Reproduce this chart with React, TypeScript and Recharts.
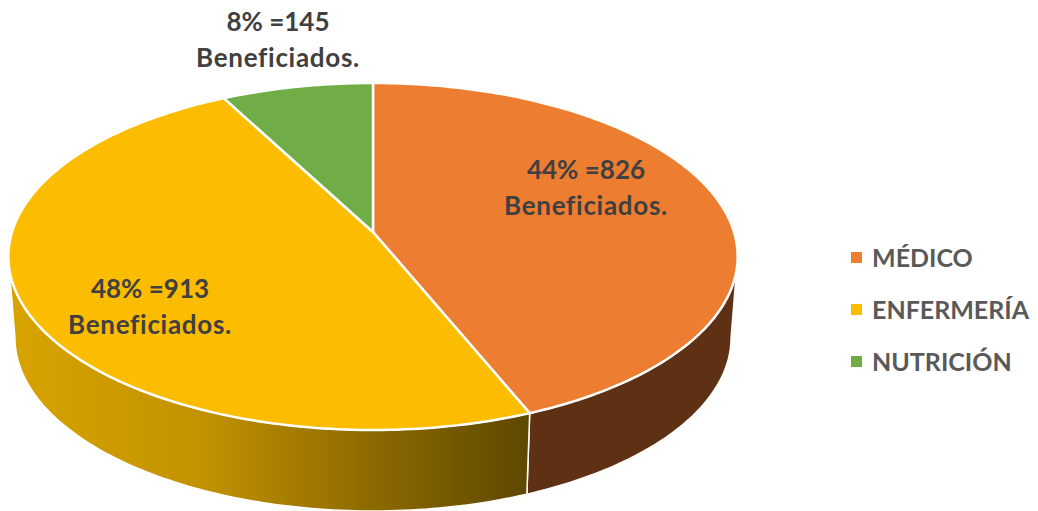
import {Legend, Pie, PieChart} from "recharts";

const categories = ["MÉDICO", "ENFERMERÍA", "NUTRICIÓN"];
const beneficiados = [826, 913, 145];
const percents = [44, 48, 8];
const colors = ["#ED7D31", "#FCBD00", "#70AD47"];

const chartData = categories.map((name, i) => ({
  name,
  value: beneficiados[i],
  fill: colors[i],
}));

// label centres (first line) by slice, same order as categories
const labelPos = [
  {x: 586, y: 179},
  {x: 150, y: 298},
  {x: 278, y: 31},
];

const wallFills = ["#5E3014", "url(#yellowWall)", "#43682B"];

// the flat pie is tilted with a perspective map, so the apex sits above the ellipse centre
const tilt = 0.1412;
const flatten = 173.5 / 361;
const apexShift = 24.5;
const wallDrop = 81;
const wallNarrow = 0.982;
// only the front of the rim has a visible wall, between the ellipse's left and right ends
const wallFrom = -8.1;
const wallTo = -171.9;

function project(cx: number, cy: number, r: number, deg: number) {
  const u = Math.cos((deg * Math.PI) / 180);
  const v = Math.sin((deg * Math.PI) / 180);
  const w = 1 + tilt * v;
  return {
    x: cx + (r * u) / w,
    y: cy + apexShift - (r * flatten * v + apexShift) / w,
  };
}

function arcPoints(cx: number, cy: number, r: number, from: number, to: number) {
  const steps = Math.max(2, Math.ceil(Math.abs(to - from)));
  const pts = [];
  for (let i = 0; i <= steps; i++) {
    pts.push(project(cx, cy, r, from + ((to - from) * i) / steps));
  }
  return pts;
}

function TopSlice(props: any) {
  const {cx, cy, outerRadius, startAngle, endAngle, fill} = props;
  const pts = arcPoints(cx, cy, outerRadius, startAngle, endAngle);
  const d =
    `M${cx},${cy} ` + pts.map((p) => `L${p.x},${p.y}`).join(" ") + " Z";
  return <path d={d} fill={fill} stroke="#fff" strokeWidth={2.5} strokeLinejoin="round" />;
}

function WallSlice(props: any) {
  const {cx, cy, outerRadius, startAngle, endAngle, index} = props;
  const from = Math.min(startAngle, wallFrom);
  const to = Math.max(endAngle, wallTo);
  if (from <= to) return <g />;
  const top = arcPoints(cx, cy, outerRadius, from, to);
  const bottom = top
    .map((p) => ({x: cx + (p.x - cx) * wallNarrow, y: p.y + wallDrop}))
    .reverse();
  const d =
    [...top, ...bottom]
      .map((p, i) => `${i === 0 ? "M" : "L"}${p.x},${p.y}`)
      .join(" ") + " Z";
  return <path d={d} fill={wallFills[index]} stroke="#fff" strokeWidth={1.5} />;
}

function renderLabel(props: any) {
  const {index} = props;
  const pos = labelPos[index];
  return (
    <text
      x={pos.x}
      y={pos.y}
      textAnchor="middle"
      fill="#404040"
      fontSize={26}
      fontWeight={700}
      fontFamily="Lato"
    >
      <tspan x={pos.x}>{`${percents[index]}% =${beneficiados[index]}`}</tspan>
      <tspan x={pos.x} dy={36} letterSpacing={0.7}>
        Beneficiados.
      </tspan>
    </text>
  );
}

export default function App() {
  return (
    <div style={{position: "absolute", left: 0, top: 0, width: 1038, height: 511}}>
      <PieChart width={1038} height={511} margin={{top: 0, right: 0, bottom: 0, left: 0}}>
        <defs>
          <linearGradient id="yellowWall" gradientUnits="userSpaceOnUse" x1={10} y1={0} x2={527} y2={0}>
            <stop offset="0" stopColor="#D8A300" />
            <stop offset="0.37" stopColor="#C29200" />
            <stop offset="0.75" stopColor="#856400" />
            <stop offset="1" stopColor="#5F4800" />
          </linearGradient>
        </defs>
        <Pie
          data={chartData}
          dataKey="value"
          nameKey="name"
          cx={373}
          cy={232}
          outerRadius={361}
          startAngle={90}
          endAngle={-270}
          legendType="none"
          shape={WallSlice}
          isAnimationActive={false}
        />
        <Pie
          data={chartData}
          dataKey="value"
          nameKey="name"
          cx={373}
          cy={232}
          outerRadius={361}
          startAngle={90}
          endAngle={-270}
          shape={TopSlice}
          label={renderLabel}
          labelLine={false}
          isAnimationActive={false}
        />
        <Legend
          layout="vertical"
          align="right"
          verticalAlign="top"
          iconType="square"
          iconSize={11}
          itemSorter={null}
          width={187}
          wrapperStyle={{left: 851, top: 231, right: "auto", lineHeight: "20px"}}
          formatter={(value: string) => (
            <span
              style={{
                display: "inline-block",
                verticalAlign: "middle",
                whiteSpace: "nowrap",
                wordBreak: "keep-all",
                lineHeight: "52px",
                color: "#595959",
                fontFamily: "Lato",
                fontWeight: 700,
                fontSize: 25,
                marginLeft: 6,
              }}
            >
              {value}
            </span>
          )}
        />
      </PieChart>
    </div>
  );
}
